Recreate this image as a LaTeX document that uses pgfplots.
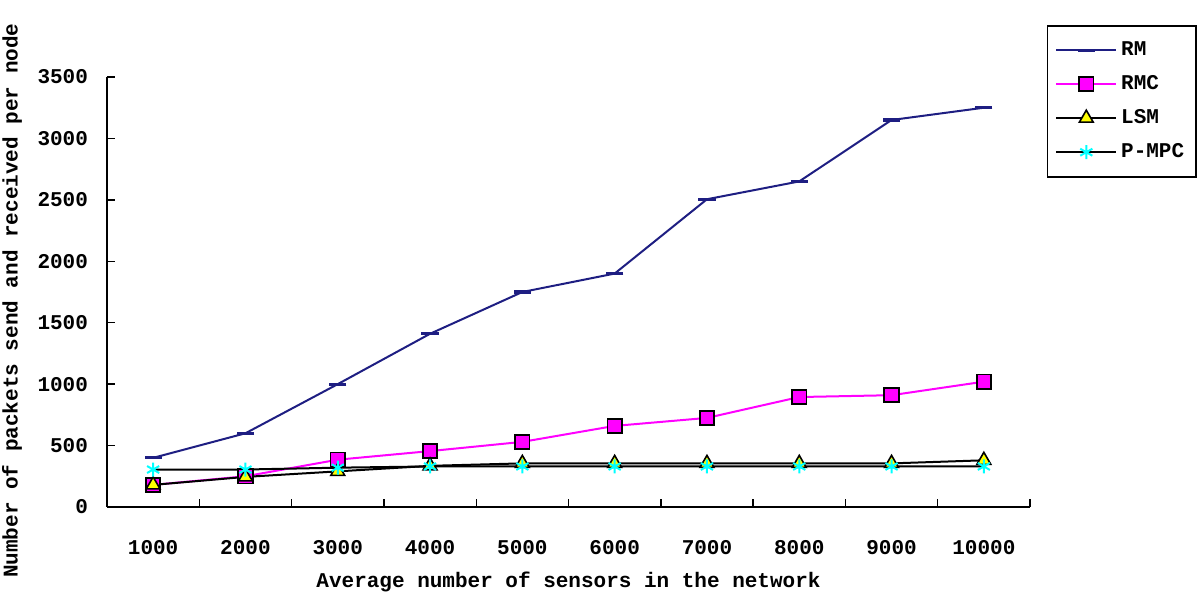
\documentclass[border=0pt]{standalone}
\usepackage{fontspec}
\setmainfont{Liberation Mono}
\setmonofont{Liberation Mono}
\usepackage{pgfplots}
\pgfplotsset{compat=1.18}
\definecolor{rmblue}{RGB}{30,30,130}
\definecolor{rmcpink}{RGB}{255,0,255}
\definecolor{lsmyel}{RGB}{255,255,0}
\definecolor{mpccyan}{RGB}{0,255,255}
\begin{document}
\begin{tikzpicture}[font=\fontsize{10.5}{12}\selectfont\bfseries]
% fixed bounding box so the page keeps the reference's 1200x593 shape (0.5pt per pixel)
\path[use as bounding box] (-53.5pt,-43pt) rectangle (546.5pt,253.5pt);
\begin{axis}[
    scale only axis,
    width=461.5pt, height=215pt,
    xmin=-0.5, xmax=9.5,
    ymin=0, ymax=3500,
    ytick={0,500,...,3500},
    xtick={0,...,9},
    xticklabels={1000,2000,3000,4000,5000,6000,7000,8000,9000,10000},
    minor xtick={-0.5,0.5,...,9.5},
    axis x line*=bottom,
    axis y line*=left,
    axis line style={line width=0.9pt, -},
    major x tick style={draw=none},
    minor tick length=4pt,
    major tick length=4pt,
    xtick align=inside,
    ytick align=inside,
    tick style={line width=0.7pt, black},
    xticklabel style={yshift=-13pt},
    yticklabel style={xshift=-6pt},
    /pgf/number format/assume math mode=true,
    /pgf/number format/1000 sep={},
    xlabel={Average number of sensors in the network},
    ylabel={Number of packets send and received per node},
    xlabel style={yshift=-2pt},
    ylabel style={at={(axis description cs:-0.103,0.48)}, anchor=center},
    legend style={at={(1.018,1.121)}, anchor=north west, draw=black, line width=0.8pt,
                  font=\fontsize{10.5}{12}\selectfont\bfseries, row sep=4.5pt,
                  inner xsep=4pt, inner ysep=6pt},
    legend cell align=left,
    legend image code/.code={
        \draw[#1] (0cm,0cm) -- (1.05cm,0cm);
        \draw[#1, mark repeat=2, mark phase=2] plot coordinates {(0cm,0cm) (0.525cm,0cm) (1.05cm,0cm)};
    },
]
% RM
\addplot[color=rmblue, line width=1pt, mark=-, mark size=4.3pt,
         mark options={line width=1.6pt}] coordinates {
  (0,400) (1,600) (2,1000) (3,1410) (4,1750)
  (5,1900) (6,2505) (7,2650) (8,3150) (9,3250)
};
% RMC
\addplot[color=rmcpink, line width=1pt, mark=square*, mark size=3.6pt,
         mark options={fill=rmcpink, draw=black, line width=0.9pt}] coordinates {
  (0,180) (1,250) (2,385) (3,455) (4,530)
  (5,660) (6,725) (7,895) (8,910) (9,1020)
};
% LSM
\addplot[color=black, line width=1pt, mark=triangle*, mark size=4pt,
         mark options={fill=lsmyel, draw=black, line width=0.8pt}] coordinates {
  (0,180) (1,245) (2,290) (3,335) (4,355)
  (5,355) (6,355) (7,355) (8,355) (9,380)
};
% P-MPC
\addplot[color=black, line width=1pt, mark=asterisk, mark size=3.5pt,
         mark options={draw=mpccyan, line width=1pt}] coordinates {
  (0,305) (1,305) (2,320) (3,330) (4,330)
  (5,330) (6,330) (7,330) (8,330) (9,330)
};
\legend{RM, RMC, LSM, P-MPC}
\end{axis}
\end{tikzpicture}
\end{document}
